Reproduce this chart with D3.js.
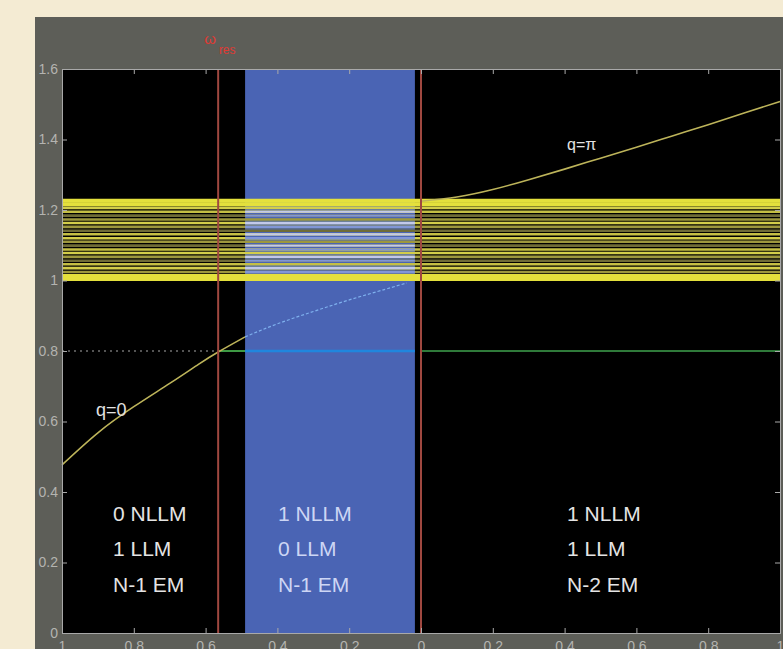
<!DOCTYPE html>
<html>
<head>
<meta charset="utf-8">
<script src="https://cdn.jsdelivr.net/npm/d3@7"></script>
<style>
  body { margin: 0; background: #f4ebd3; overflow: hidden; }
  svg { display: block; }
</style>
</head>
<body>
<script>
// sizes
const width = 783;
const height = 649;
const margin = { left: 62, right: 3, top: 69, bottom: 16 };

// data
const xTicks = [-1, -0.8, -0.6, -0.4, -0.2, 0, 0.2, 0.4, 0.6, 0.8, 1];
const yTicks = [0, 0.2, 0.4, 0.6, 0.8, 1, 1.2, 1.4, 1.6];

const resonanceX = [-0.565, 0];          // red vertical lines
const blueBand = [-0.49, -0.017];        // shaded region
const gapLevel = 0.8;                    // horizontal level

const qZeroX = [-1, -0.9, -0.8, -0.7, -0.62, -0.565, -0.49];
const qZeroY = [0.477, 0.568, 0.642, 0.708, 0.762, 0.797, 0.84];
const qZeroBandX = [-0.49, -0.4, -0.3, -0.2, -0.1, -0.04];
const qZeroBandY = [0.84, 0.877, 0.912, 0.945, 0.975, 0.993];

const qPiX = [0, 0.1, 0.2, 0.3, 0.4, 0.5, 0.6, 0.7, 0.8, 0.9, 1];
const qPiY = [1.225, 1.237, 1.258, 1.286, 1.316, 1.347, 1.378, 1.41, 1.442, 1.475, 1.508];

// extended mode band levels
const bandLevels = [1.004, 1.013, 1.024, 1.035, 1.046, 1.056, 1.067, 1.078, 1.088, 1.099,
                    1.110, 1.120, 1.131, 1.141, 1.152, 1.163, 1.173, 1.184, 1.195, 1.206, 1.216, 1.226];
const bandShade = [0, 0, 2, 3, 1, 4, 2, 3, 1, 4, 2, 3, 1, 4, 2, 3, 2, 4, 1, 3, 0, 0];
const bandInBlue = [0, 0, 1, 1, 0, 1, 1, 0, 1, 1, 0, 1, 1, 0, 1, 1, 0, 1, 1, 0, 0, 0];

const regionNames = ["left", "middle", "right"];
const regionX = [-0.858, -0.398, 0.407];
const regionLines = [
  ["0 NLLM", "1 LLM", "N-1 EM"],
  ["1 NLLM", "0 LLM", "N-1 EM"],
  ["1 NLLM", "1 LLM", "N-2 EM"]
];
const lineY = [0.34, 0.24, 0.14];

const font = "Liberation Sans, Arial, sans-serif";

const svg = d3.select("body").append("svg")
  .attr("width", width)
  .attr("height", height);

// grey panel
svg.append("rect")
  .attr("x", 35).attr("y", 17)
  .attr("width", width - 35).attr("height", height - 17)
  .attr("fill", "#5d5e58");

const x = d3.scaleLinear().domain([-1, 1]).range([margin.left, width - margin.right]);
const y = d3.scaleLinear().domain([0, 1.6]).range([height - margin.bottom, margin.top]);

// plot background
svg.append("rect")
  .attr("x", x(-1)).attr("y", y(1.6))
  .attr("width", x(1) - x(-1)).attr("height", y(0) - y(1.6))
  .attr("fill", "#000");

// blue band
svg.append("rect")
  .attr("x", x(blueBand[0])).attr("y", y(1.6))
  .attr("width", x(blueBand[1]) - x(blueBand[0])).attr("height", y(0) - y(1.6))
  .attr("fill", "#4a64b4");

// band of extended modes
const shades = ["#e4e03c", "#c4bf44", "#9d983e", "#d2cd4a", "#6f6c36"];
const bandG = svg.append("g");
bandLevels.forEach((v, i) => {
  const w = (i < 2 || i > bandLevels.length - 3) ? 4 : 2.6;
  bandG.append("line")
    .attr("x1", x(-1)).attr("x2", x(1))
    .attr("y1", y(v)).attr("y2", y(v))
    .attr("stroke", shades[bandShade[i]])
    .attr("stroke-width", w);
  if (bandInBlue[i]) {
    bandG.append("line")
      .attr("x1", x(blueBand[0])).attr("x2", x(blueBand[1]))
      .attr("y1", y(v)).attr("y2", y(v))
      .attr("stroke", i % 3 === 0 ? "#c2c9ea" : "#8196d6")
      .attr("stroke-width", 2.2);
  }
});

// horizontal 0.8 level
svg.append("line")
  .attr("x1", x(-1)).attr("x2", x(resonanceX[0]))
  .attr("y1", y(gapLevel)).attr("y2", y(gapLevel))
  .attr("stroke", "#a8a8a8").attr("stroke-width", 1)
  .attr("stroke-dasharray", "2,4");
svg.append("line")
  .attr("x1", x(resonanceX[0])).attr("x2", x(blueBand[0]))
  .attr("y1", y(gapLevel)).attr("y2", y(gapLevel))
  .attr("stroke", "#3e9a44").attr("stroke-width", 2);
svg.append("line")
  .attr("x1", x(blueBand[0])).attr("x2", x(blueBand[1]))
  .attr("y1", y(gapLevel)).attr("y2", y(gapLevel))
  .attr("stroke", "#1f86de").attr("stroke-width", 2.5);
svg.append("line")
  .attr("x1", x(resonanceX[1])).attr("x2", x(1))
  .attr("y1", y(gapLevel)).attr("y2", y(gapLevel))
  .attr("stroke", "#2f7a3a").attr("stroke-width", 2);

// curves
const line = d3.line().x(d => x(d[0])).y(d => y(d[1])).curve(d3.curveNatural);
svg.append("path")
  .attr("d", line(qZeroX.map((v, i) => [v, qZeroY[i]])))
  .attr("fill", "none").attr("stroke", "#bdb45a").attr("stroke-width", 1.6);
svg.append("path")
  .attr("d", line(qZeroBandX.map((v, i) => [v, qZeroBandY[i]])))
  .attr("fill", "none").attr("stroke", "#7eb0ee").attr("stroke-width", 1.2)
  .attr("stroke-dasharray", "3,2");
svg.append("path")
  .attr("d", line(qPiX.map((v, i) => [v, qPiY[i]])))
  .attr("fill", "none").attr("stroke", "#bdb45a").attr("stroke-width", 1.6);

// red resonance lines
svg.selectAll(".res")
  .data(resonanceX)
  .join("line")
  .attr("x1", d => x(d)).attr("x2", d => x(d))
  .attr("y1", y(1.6)).attr("y2", y(0))
  .attr("stroke", "#a04840").attr("stroke-width", 2);

// axes (inward ticks, matlab style)
const axisColor = "#a9a9a9";
const fmt = d => d3.format("~g")(Math.abs(d));
const gx = svg.append("g")
  .attr("transform", `translate(0,${y(0)})`)
  .call(d3.axisBottom(x).tickValues(xTicks).tickFormat(fmt).tickSize(-5).tickPadding(8));
const gxTop = svg.append("g")
  .attr("transform", `translate(0,${y(1.6)})`)
  .call(d3.axisTop(x).tickValues(xTicks).tickFormat("").tickSize(-5));
const gy = svg.append("g")
  .attr("transform", `translate(${x(-1)},0)`)
  .call(d3.axisLeft(y).tickValues(yTicks).tickFormat(d3.format("~g")).tickSize(-5).tickPadding(4));
const gyRight = svg.append("g")
  .attr("transform", `translate(${x(1)},0)`)
  .call(d3.axisRight(y).tickValues(yTicks).tickFormat("").tickSize(-5));

[gx, gxTop, gy, gyRight].forEach(g => {
  g.selectAll("path, line").attr("stroke", axisColor);
  g.selectAll("text")
    .attr("fill", "#b4b4b0")
    .attr("font-family", font)
    .attr("font-size", 14);
});

// curve labels
svg.append("text")
  .attr("x", x(-0.905)).attr("y", y(0.615))
  .attr("fill", "#e2e2e2")
  .attr("font-family", font)
  .attr("font-size", 18)
  .text("q=0");
svg.append("text")
  .attr("x", x(0.407)).attr("y", y(1.37))
  .attr("fill", "#e2e2e2")
  .attr("font-family", font)
  .attr("font-size", 16)
  .text("q=π");

// resonance label above the plot
const resLabel = svg.append("text")
  .attr("x", x(resonanceX[0]) - 14).attr("y", 44)
  .attr("fill", "#e03a34")
  .attr("font-family", font)
  .attr("font-size", 15);
resLabel.append("tspan").text("ω");
resLabel.append("tspan").attr("dx", 3).attr("dy", 10).attr("font-size", 12).text("res");

// region labels
regionNames.forEach((name, i) => {
  svg.append("g").attr("class", name)
    .selectAll("text")
    .data(regionLines[i])
    .join("text")
    .attr("x", x(regionX[i]))
    .attr("y", (d, j) => y(lineY[j]) + 8)
    .attr("fill", i === 1 ? "#cdd6f4" : "#e4e4e4")
    .attr("font-family", font)
    .attr("font-size", 21)
    .text(d => d);
});
</script>
</body>
</html>
